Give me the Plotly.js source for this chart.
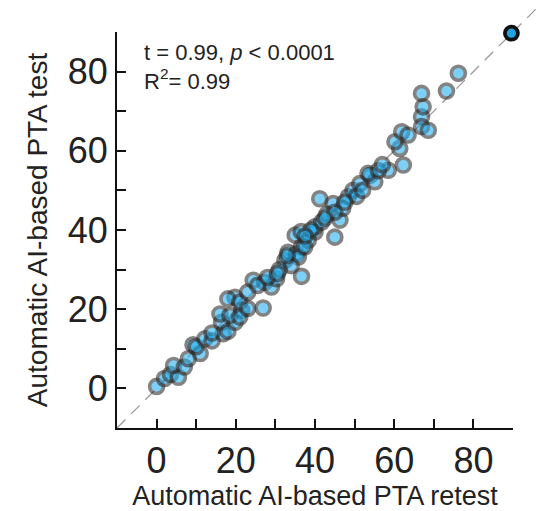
<!DOCTYPE html>
<html>
<head>
<meta charset="utf-8">
<script src="https://cdn.plot.ly/plotly-3.0.1.min.js"></script>
<style>html,body{margin:0;padding:0;background:#fff;}#chart{width:541px;height:511px;}</style>
</head>
<body>
<div id="chart"></div>
<script>
// Automatic AI-based PTA retest (x) vs test (y)
const retest = [0, 2, 3.5, 5.5, 4.3, 7, 9.2, 11, 10, 12.2, 14, 16.8, 16.4, 18, 19.8, 16, 18.5, 19.8, 21.5, 21,
  18, 21, 23, 26.9, 23, 24.4, 27.3, 29, 30.3, 25.5, 36.6, 32.4, 33.2, 35.3, 36.6, 35, 36.5, 40, 38.3, 35.8,
  37.4, 40, 41.7, 45, 41.2, 44.6, 46.3, 43, 48.4, 49.6, 51.3, 53.9, 55.1, 58.5, 53.4, 62.3, 61.4, 60.2, 61.9, 66.9,
  66.9, 68.6, 67.3, 66.9, 73.2, 76.2, 47, 45, 50.5, 52, 34, 31, 28, 33, 39, 42.5, 47.5, 56, 57, 14,
  8, 30.5, 37.5, 63.5];
const test = [0.5, 2.5, 3.5, 2.8, 5.8, 5.4, 11, 8.8, 10.5, 12.5, 12, 13.8, 16.7, 14.4, 16.7, 18.8, 18.4, 23, 19.7, 18,
  22.6, 21.8, 20.2, 20.3, 24.3, 27.3, 26.8, 25.6, 27.7, 26, 28.3, 32.3, 34.4, 34, 35.7, 38.7, 39.6, 39.5, 37.4, 33.2,
  35.7, 40.8, 42, 38.2, 47.9, 46.7, 42.5, 44, 48.4, 50, 51.7, 53.8, 52.2, 55.1, 54.3, 56.4, 60.6, 62.3, 64.8, 68.6,
  66.1, 65.2, 71.1, 74.5, 75.1, 79.6, 45.5, 44.5, 48.5, 50, 31, 30, 28, 33.5, 40, 43, 47, 55, 56.5, 14,
  7.5, 29, 38.5, 64];
// highlighted point
const hiRetest = [89.6];
const hiTest = [89.7];

const tickVals = [0, 20, 40, 60, 80];
const tickText = ['0', '20', '40', '60', '80'];
const minorStep = 10;

const xTitle = 'Automatic AI-based PTA retest';
const yTitle = 'Automatic AI-based PTA test';
const statText = 't = 0.99, <i>p</i> < 0.0001<br>R<sup>2</sup>= 0.99';

const FONT = 'Liberation Sans, Arial, Helvetica, sans-serif';

const traces = [
  {
    x: retest, y: test, type: 'scatter', mode: 'markers',
    marker: {size: 14, color: '#22aef0', opacity: 0.58, line: {color: '#2a2a2a', width: 3.6}},
    cliponaxis: false, showlegend: false, hoverinfo: 'x+y'
  },
  {
    x: hiRetest, y: hiTest, type: 'scatter', mode: 'markers',
    marker: {size: 13, color: '#1ea3e3', opacity: 1, line: {color: '#111111', width: 3.8}},
    cliponaxis: false, showlegend: false, hoverinfo: 'x+y'
  }
];

const axisCommon = {
  range: [-10, 90], tickmode: 'array', tickvals: tickVals, ticktext: tickText,
  ticks: 'inside', ticklen: 9, tickwidth: 2, tickcolor: '#111',
  minor: {dtick: minorStep, tick0: 0, ticks: 'inside', ticklen: 9, tickwidth: 2, tickcolor: '#111', showgrid: false},
  showline: true, linecolor: '#111', linewidth: 2, mirror: false,
  showgrid: false, zeroline: false,
  tickfont: {family: FONT, size: 36, color: '#222'}
};

const layout = {
  width: 541, height: 511,
  margin: {l: 117, r: 28, t: 32, b: 83},
  paper_bgcolor: '#fff', plot_bgcolor: '#fff',
  font: {family: FONT, color: '#222'},
  xaxis: Object.assign({}, axisCommon, {
    title: {text: xTitle, font: {family: FONT, size: 27, color: '#222'}, standoff: 8}
  }),
  yaxis: Object.assign({}, axisCommon, {
    title: {text: yTitle, font: {family: FONT, size: 28, color: '#222'}, standoff: 12}
  }),
  shapes: [{
    type: 'line', xref: 'paper', yref: 'paper', x0: 0, y0: 0, x1: 1.06, y1: 1.06,
    line: {color: '#9a9a9a', width: 1.3, dash: '12px,8px'}, layer: 'below'
  }],
  annotations: [
    {text: statText, xref: 'paper', yref: 'paper', x: 0.063, y: 0.985, xanchor: 'left', yanchor: 'top',
     align: 'left', showarrow: false, font: {family: FONT, size: 22, color: '#222'}}
  ]
};

Plotly.newPlot('chart', traces, layout, {displayModeBar: false, staticPlot: true});
</script>
</body>
</html>
